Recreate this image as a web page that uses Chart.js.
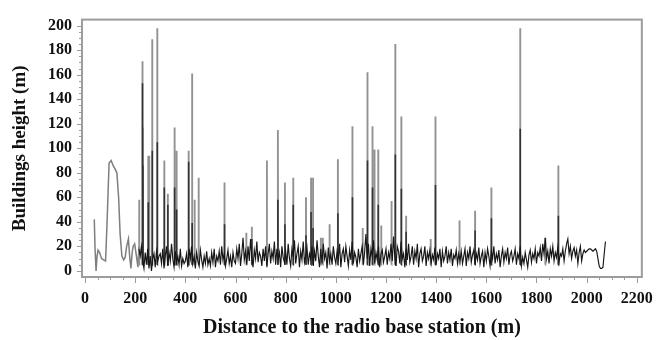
<!DOCTYPE html>
<html>
<head>
<meta charset="utf-8">
<script src="https://cdn.jsdelivr.net/npm/chart.js@4/dist/chart.umd.min.js"></script>
<style>
  html, body { margin: 0; padding: 0; background: #fff; }
  #wrap { width: 665px; height: 340px; }
</style>
</head>
<body>
<div id="wrap"><canvas id="c" width="665" height="340"></canvas></div>
<script>
// ---------- data ----------
// smooth near-station profile (m, m)
const profileDist   = [37, 40, 44, 48, 52, 58, 66, 74, 82, 88, 96, 104, 112, 120, 127, 134, 140, 147, 154, 160, 166, 173, 178, 183, 188, 192, 198, 205, 211, 215];
const profileHeight = [42, 18, 0, 12, 17, 15, 10, 9, 8, 40, 88, 90, 86, 83, 80, 60, 30, 12, 9, 11, 20, 26, 12, 2, 15, 20, 22, 12, 3, 20];

// dense building profile, sampled every 5 m from 215 m
const noiseStart = 215;
const noiseStep = 5;
const noiseHeight = [
  18, 12, 20, 8, 2, 15, 5, 18, 2, 12, 0, 10, 14, 3, 16, 8, 12,            // 215-295
  14, 6, 18, 2, 12, 20, 4, 15, 8, 22, 10, 3, 16, 7, 12, 5, 18, 4, 10, 6,   // 300
  8, 14, 3, 18, 10, 20, 6, 12, 2, 15, 8, 4, 17, 9, 3, 12, 6, 16, 5, 10,    // 400
  4, 15, 7, 18, 3, 12, 8, 16, 5, 20, 9, 14, 4, 10, 17, 6, 12, 3, 15, 8,    // 500
  6, 18, 10, 22, 4, 14, 27, 9, 16, 5, 20, 8, 26, 12, 3, 17, 10, 24, 7, 15, // 600
  12, 4, 18, 8, 20, 3, 14, 22, 6, 16, 10, 24, 5, 18, 9, 15, 3, 20, 11, 7,  // 700
  16, 5, 22, 10, 4, 18, 12, 25, 6, 14, 20, 3, 16, 9, 24, 7, 12, 19, 5, 14, // 800
  10, 20, 4, 16, 8, 25, 12, 3, 18, 6, 22, 10, 15, 2, 19, 8, 14, 5, 20, 11, // 900
  6, 16, 10, 22, 3, 14, 18, 7, 20, 12, 4, 17, 9, 24, 6, 15, 11, 3, 18, 8,  // 1000
  14, 20, 5, 16, 30, 10, 22, 4, 18, 12, 25, 6, 15, 9, 20, 3, 14, 17, 7, 12,// 1100
  18, 5, 15, 10, 22, 8, 28, 12, 4, 20, 16, 6, 24, 10, 14, 3, 18, 9, 22, 7, // 1200
  12, 20, 5, 16, 10, 22, 3, 14, 18, 8, 12, 20, 4, 15, 10, 17, 6, 13, 9, 19,// 1300
  5, 14, 10, 18, 3, 16, 8, 12, 20, 6, 15, 9, 18, 4, 13, 10, 17, 6, 14, 8,  // 1400
  16, 6, 12, 18, 4, 15, 10, 20, 7, 13, 17, 5, 14, 9, 19, 6, 12, 16, 3, 15, // 1500
  8, 18, 12, 4, 16, 10, 20, 6, 14, 9, 17, 3, 12, 18, 7, 15, 10, 19, 5, 13, // 1600
  16, 8, 12, 18, 5, 14, 10, 20, 4, 11, 6, 15, 9, 3, 13, 17, 7, 14, 10, 18, // 1700
  6, 15, 12, 19, 8, 22, 14, 27, 10, 16, 6, 18, 12, 20, 8, 15, 11, 19, 7, 14,// 1800
  12, 18, 8, 16, 22, 26, 14, 20, 10, 16, 19, 12, 17, 6, 15, 20, 8, 14, 17, 15, // 1900
  16, 17, 18, 18, 17, 16, 17, 18, 16, 10, 4, 2, 2, 3, 14, 24               // 2000-2075
];

// tall isolated buildings: position, full height, darker inner trace height
const spikeDist  = [216, 229, 231, 252, 256, 268, 288, 316, 330, 357, 365, 413, 427, 437, 453, 556, 643, 665, 725, 769, 797, 830, 881, 901, 909, 940, 948, 975, 1008, 1066, 1107, 1126, 1146, 1154, 1169, 1181, 1222, 1237, 1261, 1280, 1378, 1397, 1493, 1555, 1620, 1735, 1835, 1887];
const spikePeak  = [58, 171, 117, 94, 94, 189, 198, 90, 63, 117, 98, 98, 161, 58, 76, 72, 31, 36, 90, 115, 72, 76, 60, 76, 76, 27, 27, 38, 91, 118, 35, 162, 118, 99, 99, 37, 57, 185, 126, 45, 26, 126, 41, 49, 68, 198, 27, 86];
const spikeInner = [0, 153, 86, 56, 0, 98, 105, 68, 54, 68, 50, 89, 39, 0, 0, 38, 0, 26, 0, 58, 38, 54, 29, 48, 35, 0, 0, 0, 47, 60, 0, 90, 68, 0, 54, 0, 0, 95, 67, 32, 0, 70, 0, 33, 43, 116, 0, 45];
const spikeBase = 5;

const yTicks = [0, 20, 40, 60, 80, 100, 120, 140, 160, 180, 200];
const xTicks = [0, 200, 400, 600, 800, 1000, 1200, 1400, 1600, 1800, 2000, 2200];
const yMinorStep = 5;
const xMinorStep = 50;

// ---------- build datasets ----------
const profilePts = profileDist.map((d, i) => ({ x: d, y: profileHeight[i] }));
const noisePts = noiseHeight.map((h, i) => ({ x: noiseStart + i * noiseStep, y: h }));
function spikeSegments(vals) {
  const pts = [];
  spikeDist.forEach((d, i) => {
    if (!vals[i]) return;
    pts.push({ x: d, y: spikeBase }, { x: d, y: vals[i] }, { x: d + 0.5, y: spikeBase }, { x: d + 0.5, y: null });
  });
  return pts;
}

const serif = "'Liberation Serif', 'Times New Roman', serif";

const frame = {
  id: 'frame',
  afterDraw(chart) {
    const { ctx, chartArea: a, scales: { x, y } } = chart;
    ctx.save();
    ctx.strokeStyle = '#9c9c9c';
    ctx.lineWidth = 1;
    for (let v = yTicks[0]; v <= yTicks[yTicks.length - 1]; v += yMinorStep) {
      const p = Math.round(y.getPixelForValue(v)) + 0.5;
      const len = v % 20 === 0 ? 5 : 3;
      ctx.beginPath(); ctx.moveTo(a.left - len, p); ctx.lineTo(a.left, p); ctx.stroke();
    }
    for (let v = xTicks[0]; v <= xTicks[xTicks.length - 1]; v += xMinorStep) {
      const p = Math.round(x.getPixelForValue(v)) + 0.5;
      const len = v % 200 === 0 ? 6 : 3;
      ctx.beginPath(); ctx.moveTo(p, a.bottom); ctx.lineTo(p, a.bottom + len); ctx.stroke();
    }
    ctx.lineWidth = 2;
    ctx.strokeRect(a.left, a.top, a.right - a.left, a.bottom - a.top);
    ctx.restore();
  }
};

new Chart(document.getElementById('c'), {
  type: 'line',
  data: {
    datasets: [
      { data: noisePts, borderColor: '#161616', borderWidth: 1.15, order: 0 },
      { data: spikeSegments(spikeInner), borderColor: '#333333', borderWidth: 1.6, order: 1 },
      { data: spikeSegments(spikePeak), borderColor: '#929292', borderWidth: 1.9, order: 2 },
      { data: profilePts, borderColor: '#7e7e7e', borderWidth: 1.5, order: 3 }
    ]
  },
  options: {
    responsive: false,
    animation: false,
    events: [],
    spanGaps: false,
    elements: { point: { radius: 0 }, line: { tension: 0, borderJoinStyle: 'miter' } },
    layout: { padding: { left: 0, right: 20, top: 13, bottom: 0 } },
    plugins: { legend: { display: false }, tooltip: { enabled: false } },
    scales: {
      x: {
        type: 'linear',
        min: -12, max: 2220,
        afterBuildTicks: s => { s.ticks = xTicks.map(v => ({ value: v })); },
        afterFit: s => { s.height = 63; },
        grid: { display: false, drawTicks: false },
        border: { display: false },
        ticks: { autoSkip: false, maxRotation: 0, padding: 12, color: '#111', callback: v => String(v), font: { family: serif, size: 16, weight: 'bold' } },
        title: { display: true, text: 'Distance to the radio base station (m)', color: '#111', padding: { top: 4, bottom: 0 }, font: { family: serif, size: 20, weight: 'bold' } }
      },
      y: {
        min: -5, max: 205,
        afterBuildTicks: s => { s.ticks = yTicks.map(v => ({ value: v })); },
        afterFit: s => { s.width = 82; },
        grid: { display: false, drawTicks: false },
        border: { display: false },
        ticks: { autoSkip: false, padding: 10, color: '#111', callback: v => String(v), font: { family: serif, size: 16, weight: 'bold' } },
        title: { display: true, text: 'Buildings height (m)', color: '#111', padding: { top: 9, bottom: 4 }, font: { family: serif, size: 19, weight: 'bold' } }
      }
    }
  },
  plugins: [frame]
});
</script>
</body>
</html>
